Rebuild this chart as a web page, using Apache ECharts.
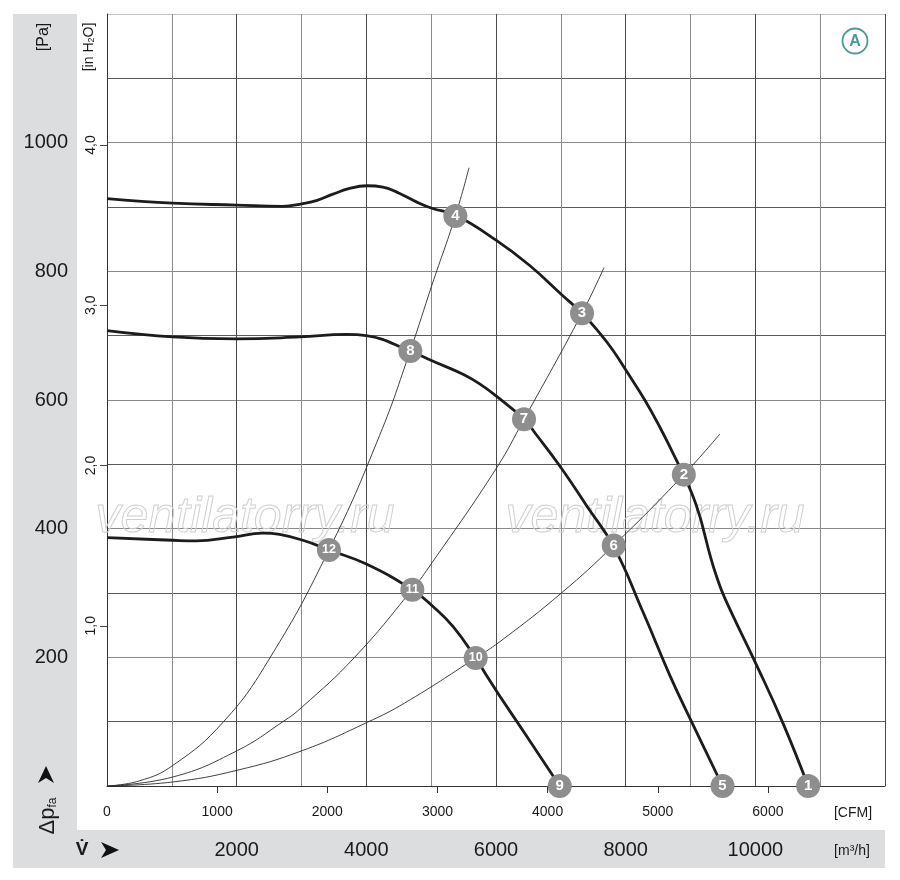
<!DOCTYPE html>
<html>
<head>
<meta charset="utf-8">
<script src="https://cdn.jsdelivr.net/npm/echarts@6/dist/echarts.min.js"></script>
<style>
html,body{margin:0;padding:0;background:#fff;}
#chart{width:900px;height:880px;}
</style>
</head>
<body>
<div id="chart"></div>
<script>
// ---- Data (flow in m³/h, pressure in Pa) ----
const fanCurve1 = [[0,913],[1015,906],[1994,903],[2713,901],[3006,905],[3228,910],[3485,920],[3742,929],[4009,933],[4256,931],[4514,921],[4772,908],[5012,898],[5378,887],[6006,848],[6520,809],[7009,764],[7327,735],[7600,704],[7806,677],[8012,645],[8295,600],[8526,558],[8731,517],[8897,483],[9040,450],[9144,419],[9221,390],[9298,360],[9401,326],[9529,292],[10019,188],[10429,97],[10815,0]];
const fanCurve2 = [[0,708],[1015,698],[1994,695],[2971,698],[3691,702],[4000,700],[4679,676],[5013,661],[5491,640],[5748,625],[6006,606],[6432,570],[6623,546],[7009,494],[7395,436],[7816,372],[8269,270],[8681,172],[9040,95],[9494,0]];
const fanCurve3 = [[0,386],[1015,382],[1377,381],[1941,387],[2404,393],[2662,391],[3022,382],[3423,367],[4000,345],[4710,305],[5028,279],[5336,248],[5687,199],[5852,172],[6057,140],[6469,78],[6983,0]];

const systemA = [[0,0],[500,8],[1016,32],[1798,100],[2518,200],[3423,367],[4205,545],[4679,677],[5013,779],[5373,886],[5584,961]];
const systemB = [[0,0],[1016,14],[2009,55],[2713,100],[3012,123],[3819,200],[4704,305],[5013,347],[6006,494],[6432,570],[7327,735],[7667,806]];
const systemC = [[0,0],[1016,6.3],[2009,24.5],[3012,55],[4015,99],[4591,129],[5687,199],[6108,228],[7009,300],[7816,374],[8897,484],[9452,547]];

const pointLabels = ['1','2','3','4','5','6','7','8','9','10','11','12'];
const pointFlows  = [10815,8897,7327,5373,9494,7816,6432,4679,6983,5687,4710,3423];
const pointPress  = [0,484,735,886,0,374,570,676,0,199,305,367];

const m3hTicks = [2000,4000,6000,8000,10000];
const cfmTicks = [0,1000,2000,3000,4000,5000,6000];
const paTicks  = [200,400,600,800,1000];
const inH2OTicks = [1,2,3,4];

const M3H_PER_CFM = 1.699;
const PA_PER_INH2O = 249.089;
const FLOW_MAX = 12000, PRESS_MAX = 1200;

const FONT = '"Liberation Sans", Arial, sans-serif';
const chart = echarts.init(document.getElementById('chart'), null, {renderer:'canvas'});
const plain = v => String(Math.round(v));

const fanStyle = {type:'line', smooth:0.45, showSymbol:false, symbol:'none', lineStyle:{color:'#1c1c1c', width:2.8}, z:3, silent:true};
const sysStyle = {type:'line', smooth:0.45, showSymbol:false, symbol:'none', lineStyle:{color:'#2a2a2a', width:0.9}, z:2, silent:true};

const yGridColors = [];
for (let i = 0; i <= 12; i++) yGridColors.push(i === 12 ? '#c4c4c4' : (i % 2 ? '#5a5a5a' : '#8a8a8a'));
const xGridColors = [];
for (let i = 0; i <= 12; i++) xGridColors.push(i % 2 ? '#8a8a8a' : '#4a4a4a');

const option = {
  animation:false,
  backgroundColor:'#fff',
  grid:{left:107, right:15, top:14, bottom:94, containLabel:false},
  xAxis:[
    {type:'value', min:0, max:FLOW_MAX, interval:1000, position:'bottom',
     axisLine:{show:true, lineStyle:{color:'#333', width:1}},
     axisTick:{show:false},
     splitLine:{show:true, lineStyle:{color:xGridColors, width:1}},
     axisLabel:{show:true, customValues:m3hTicks, margin:54, fontSize:20, color:'#1a1a1a', fontFamily:FONT, formatter:plain}},
    {type:'value', min:0, max:FLOW_MAX/M3H_PER_CFM, interval:1000, position:'bottom',
     axisLine:{show:false}, splitLine:{show:false},
     axisTick:{show:true, inside:false, length:7, customValues:[1000,2000,3000,4000,5000,6000], lineStyle:{color:'#333'}},
     axisLabel:{show:true, customValues:cfmTicks, margin:19, fontSize:14, color:'#1a1a1a', fontFamily:FONT, formatter:plain}}
  ],
  yAxis:[
    {type:'value', min:0, max:PRESS_MAX, interval:100, position:'left',
     axisLine:{show:true, lineStyle:{color:'#333', width:1}},
     axisTick:{show:false},
     splitLine:{show:true, lineStyle:{color:yGridColors, width:1}},
     axisLabel:{show:true, customValues:paTicks, margin:39, fontSize:20, color:'#1a1a1a', fontFamily:FONT, formatter:plain}},
    {type:'value', min:0, max:PRESS_MAX/PA_PER_INH2O, interval:1, position:'left',
     axisLine:{show:false}, splitLine:{show:false},
     axisTick:{show:true, inside:false, length:7, customValues:inH2OTicks, lineStyle:{color:'#444'}},
     axisLabel:{show:true, customValues:inH2OTicks, rotate:90, margin:9, fontSize:14, color:'#1a1a1a', fontFamily:FONT,
       formatter:v => v.toFixed(1).replace('.', ',')}}
  ],
  series:[
    Object.assign({name:'sysA', data:systemA}, sysStyle),
    Object.assign({name:'sysB', data:systemB}, sysStyle),
    Object.assign({name:'sysC', data:systemC}, sysStyle),
    Object.assign({name:'fan1', data:fanCurve1}, fanStyle),
    Object.assign({name:'fan2', data:fanCurve2}, fanStyle),
    Object.assign({name:'fan3', data:fanCurve3}, fanStyle),
    {type:'scatter', name:'points', z:5, silent:true, symbol:'circle', symbolSize:24,
     clip:false,
     itemStyle:{color:'#8e8e8e', opacity:1},
     label:{show:true, position:'inside', color:'#fff', fontWeight:'bold', fontFamily:FONT,
       formatter:p => p.value[2], fontSize:15},
     data:pointLabels.map((l,i) => ({value:[pointFlows[i], pointPress[i], l], label:{fontSize: l.length > 1 ? 12.5 : 15}}))}
  ],
  graphic:{elements:[
    // grey bands
    {type:'rect', z:-10, shape:{x:13, y:14, width:64, height:854}, style:{fill:'#dcdddf'}},
    {type:'rect', z:-10, shape:{x:13, y:830, width:872, height:38}, style:{fill:'#dcdddf'}},
    // watermarks
    {type:'text', z:1, x:245, y:518, style:{text:'ventilatorry.ru', font:'italic 300 50px "Liberation Sans", Arial, sans-serif', fill:'rgba(255,255,255,0)', stroke:'#cfcfcf', lineWidth:1, align:'center', verticalAlign:'middle', textAlign:'center', textVerticalAlign:'middle'}},
    {type:'text', z:1, x:655, y:518, style:{text:'ventilatorry.ru', font:'italic 300 50px "Liberation Sans", Arial, sans-serif', fill:'rgba(255,255,255,0)', stroke:'#cfcfcf', lineWidth:1, align:'center', verticalAlign:'middle', textAlign:'center', textVerticalAlign:'middle'}},
    // unit labels
    {type:'text', x:44, y:37, rotation:Math.PI/2, style:{text:'[Pa]', font:'16px '+FONT, fill:'#1a1a1a', align:'center', verticalAlign:'middle', textAlign:'center', textVerticalAlign:'middle'}},
    {type:'text', x:89, y:47, rotation:Math.PI/2, style:{text:'{a|[in H}{s|2}{a|O]}', align:'center', verticalAlign:'middle', textAlign:'center', textVerticalAlign:'middle',
      rich:{a:{fontSize:14, fontFamily:FONT, fill:'#1a1a1a', color:'#1a1a1a'}, s:{fontSize:9, fontFamily:FONT, fill:'#1a1a1a', color:'#1a1a1a', verticalAlign:'bottom', padding:[5,0,0,0]}}}},
    {type:'text', x:853, y:813, style:{text:'[CFM]', font:'14px '+FONT, fill:'#1a1a1a', align:'center', verticalAlign:'middle', textAlign:'center', textVerticalAlign:'middle'}},
    {type:'text', x:852, y:851, style:{text:'[m³/h]', font:'14px '+FONT, fill:'#1a1a1a', align:'center', verticalAlign:'middle', textAlign:'center', textVerticalAlign:'middle'}},
    {type:'text', x:48, y:816, rotation:Math.PI/2, style:{text:'{d|Δp}{s|fa}', align:'center', verticalAlign:'middle', textAlign:'center', textVerticalAlign:'middle',
      rich:{d:{fontSize:22, fontFamily:FONT, fill:'#1a1a1a', color:'#1a1a1a'}, s:{fontSize:12, fontFamily:FONT, fill:'#1a1a1a', color:'#1a1a1a', verticalAlign:'bottom', padding:[6,0,0,0]}}}},
    {type:'polygon', shape:{points:[[46,766],[54,783],[46,778],[38,783]]}, style:{fill:'#111'}},
    {type:'text', x:82, y:850, style:{text:'V̇', font:'bold 19px '+FONT, fill:'#1a1a1a', align:'center', verticalAlign:'middle', textAlign:'center', textVerticalAlign:'middle'}},
    {type:'polygon', shape:{points:[[119,850],[101,842],[106,850],[101,858]]}, style:{fill:'#111'}},
    // circled A
    {type:'circle', shape:{cx:855, cy:41, r:12.5}, style:{fill:'#fff', stroke:'#4b9a95', lineWidth:1.8}},
    {type:'text', x:855, y:42, style:{text:'A', font:'bold 16px '+FONT, fill:'#4b9a95', align:'center', verticalAlign:'middle', textAlign:'center', textVerticalAlign:'middle'}}
  ]}
};
chart.setOption(option);
</script>
</body>
</html>
